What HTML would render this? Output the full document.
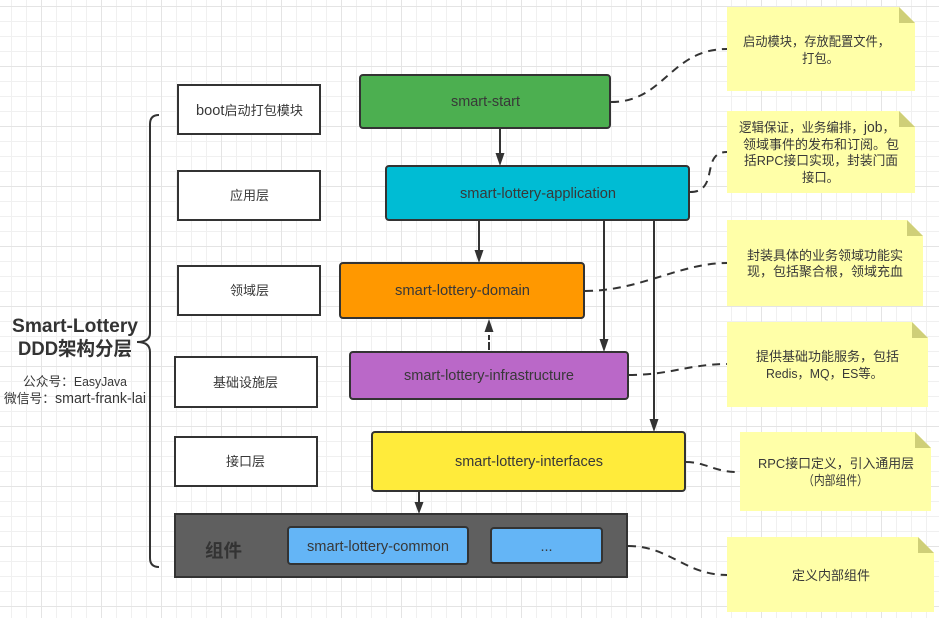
<!DOCTYPE html>
<html><head><meta charset="utf-8"><style>
html,body{margin:0;padding:0;background:#fff}
svg{display:block}
text{font-family:"Liberation Sans","Noto Sans CJK SC",sans-serif;font-size:13px;fill:#383838}
.l{font-size:14.5px}
.m{font-size:13px}
.t{font-size:19px;font-weight:700;fill:#333}
.b{stroke:#333;stroke-width:2}
.c{fill:none;stroke:#333;stroke-width:2}
.d{fill:none;stroke:#333;stroke-width:2;stroke-dasharray:8 6}
.n{fill:#ffffa8}
.f{fill:#cfcf78}
.a{fill:#333}
</style></head><body>
<svg xmlns="http://www.w3.org/2000/svg" width="939" height="618" viewBox="0 0 939 618">
<defs>
<pattern id="g1" width="15" height="15" patternUnits="userSpaceOnUse" x="11" y="6"><path d="M0.5 0V15M0 0.5H15" stroke="#f0f0f0" fill="none"/></pattern>
<pattern id="g2" width="60" height="60" patternUnits="userSpaceOnUse" x="41" y="6"><path d="M0.5 0V60M0 0.5H60" stroke="#e4e4e4" fill="none"/></pattern>
</defs>
<rect width="939" height="618" fill="#fff"/>
<rect width="939" height="618" fill="url(#g1)"/>
<rect width="939" height="618" fill="url(#g2)"/>

<path class="c" d="M159 115Q150 115 150 124V333Q150 342 137 342Q150 342 150 352V558Q150 567 159 567"/>
<text class="t" x="12" y="332" textLength="126" lengthAdjust="spacingAndGlyphs">Smart-Lottery</text>
<text class="t" x="18" y="355" textLength="114" lengthAdjust="spacingAndGlyphs">DDD架构分层</text>
<text x="23" y="386" textLength="104" lengthAdjust="spacingAndGlyphs">公众号：<tspan style="font-size:12.500px">EasyJava</tspan></text>
<text x="4" y="403" textLength="142" lengthAdjust="spacingAndGlyphs">微信号：<tspan class="l">smart-frank-lai</tspan></text>

<rect class="b" x="178" y="85" width="142" height="49" fill="#fff"/>
<rect class="b" x="178" y="171" width="142" height="49" fill="#fff"/>
<rect class="b" x="178" y="266" width="142" height="49" fill="#fff"/>
<rect class="b" x="175" y="357" width="142" height="50" fill="#fff"/>
<rect class="b" x="175" y="437" width="142" height="49" fill="#fff"/>
<text x="196" y="115" textLength="107" lengthAdjust="spacingAndGlyphs"><tspan class="l">boot</tspan>启动打包模块</text>
<text x="230" y="200" textLength="39" lengthAdjust="spacingAndGlyphs">应用层</text>
<text x="230" y="295" textLength="39" lengthAdjust="spacingAndGlyphs">领域层</text>
<text x="213" y="387" textLength="65" lengthAdjust="spacingAndGlyphs">基础设施层</text>
<text x="226" y="466" textLength="39" lengthAdjust="spacingAndGlyphs">接口层</text>

<rect class="b" x="175" y="514" width="452" height="63" fill="#5f5f5f"/>
<text x="205" y="557" textLength="37" lengthAdjust="spacingAndGlyphs" style="font-size:18px;font-weight:700;fill:#333">组件</text>
<rect class="b" x="288" y="527" width="180" height="37" rx="3" fill="#64b5f6"/>
<text class="l" x="307" y="551" textLength="142" lengthAdjust="spacingAndGlyphs">smart-lottery-common</text>
<rect class="b" x="491" y="528" width="111" height="35" rx="3" fill="#64b5f6"/>
<text class="l" x="546.5" y="551" text-anchor="middle">...</text>

<rect class="b" x="360" y="75" width="250" height="53" rx="3" fill="#4caf50"/>
<text class="l" x="451" y="106" textLength="69" lengthAdjust="spacingAndGlyphs">smart-start</text>
<rect class="b" x="386" y="166" width="303" height="54" rx="3" fill="#00bcd4"/>
<text class="l" x="460" y="198" textLength="156" lengthAdjust="spacingAndGlyphs">smart-lottery-application</text>
<rect class="b" x="340" y="263" width="244" height="55" rx="3" fill="#ff9800"/>
<text class="l" x="395" y="295" textLength="135" lengthAdjust="spacingAndGlyphs">smart-lottery-domain</text>
<rect class="b" x="350" y="352" width="278" height="47" rx="3" fill="#ba68c8"/>
<text class="l" x="404" y="380" textLength="170" lengthAdjust="spacingAndGlyphs">smart-lottery-infrastructure</text>
<rect class="b" x="372" y="432" width="313" height="59" rx="3" fill="#ffeb3b"/>
<text class="l" x="455" y="466" textLength="148" lengthAdjust="spacingAndGlyphs">smart-lottery-interfaces</text>

<path class="c" d="M500 129V157"/><path class="a" d="M495.5 153H504.5L500 166Z"/>
<path class="c" d="M479 221V252"/><path class="a" d="M474.500 250H483.500L479 263Z"/>
<path class="c" d="M604 221V341"/><path class="a" d="M599.500 339H608.500L604 352Z"/>
<path class="c" d="M654 221V421"/><path class="a" d="M649.500 419H658.500L654 432Z"/>
<path class="c" d="M489 350V342M489 340V335"/><path class="a" d="M484.500 332H493.500L489 319Z"/>
<path class="c" d="M419 492V505"/><path class="a" d="M414.500 502H423.500L419 514Z"/>

<path class="d" d="M611 102C665 102 670 49 727 49"/>
<path class="d" d="M690 192C720 192 700 152 727 152"/>
<path class="d" d="M585 291C640 291 680 263 727 263"/>
<path class="d" d="M629 375C670 375 690 364 727 364"/>
<path class="d" d="M686 462C705 462 715 472 737 472"/>
<path class="d" d="M628 546C670 546 685 575 727 575"/>

<path class="n" d="M727 7H899L915 23V91H727Z"/><path class="f" d="M899 7L915 23H899Z"/>
<text x="743" y="46" textLength="147" lengthAdjust="spacingAndGlyphs">启动模块，存放配置文件，</text>
<text x="802" y="63" textLength="37" lengthAdjust="spacingAndGlyphs">打包。</text>

<path class="n" d="M727 111H899L915 127V193H727Z"/><path class="f" d="M899 111L915 127H899Z"/>
<text x="739" y="132" textLength="156" lengthAdjust="spacingAndGlyphs">逻辑保证，业务编排，<tspan class="l">job</tspan>，</text>
<text x="743" y="149" textLength="156" lengthAdjust="spacingAndGlyphs">领域事件的发布和订阅。包</text>
<text x="744" y="165" textLength="154" lengthAdjust="spacingAndGlyphs">括RPC接口实现，封装门面</text>
<text x="802" y="182" textLength="37" lengthAdjust="spacingAndGlyphs">接口。</text>

<path class="n" d="M727 220H907L923 236V306H727Z"/><path class="f" d="M907 220L923 236H907Z"/>
<text x="747" y="260" textLength="156" lengthAdjust="spacingAndGlyphs">封装具体的业务领域功能实</text>
<text x="747" y="276" textLength="156" lengthAdjust="spacingAndGlyphs">现，包括聚合根，领域充血</text>

<path class="n" d="M727 322H912L928 338V407H727Z"/><path class="f" d="M912 322L928 338H912Z"/>
<text x="756" y="361" textLength="143" lengthAdjust="spacingAndGlyphs">提供基础功能服务，包括</text>
<text x="766" y="378" textLength="117" lengthAdjust="spacingAndGlyphs">Redis，MQ，ES等。</text>

<path class="n" d="M740 432H915L931 448V511H740Z"/><path class="f" d="M915 432L931 448H915Z"/>
<text x="758" y="468" textLength="156" lengthAdjust="spacingAndGlyphs">RPC接口定义，引入通用层</text>
<text x="803" y="485" textLength="65" lengthAdjust="spacingAndGlyphs">（内部组件）</text>

<path class="n" d="M727 537H918L934 553V612H727Z"/><path class="f" d="M918 537L934 553H918Z"/>
<text x="792" y="580" textLength="78" lengthAdjust="spacingAndGlyphs">定义内部组件</text>
</svg>
</body></html>
